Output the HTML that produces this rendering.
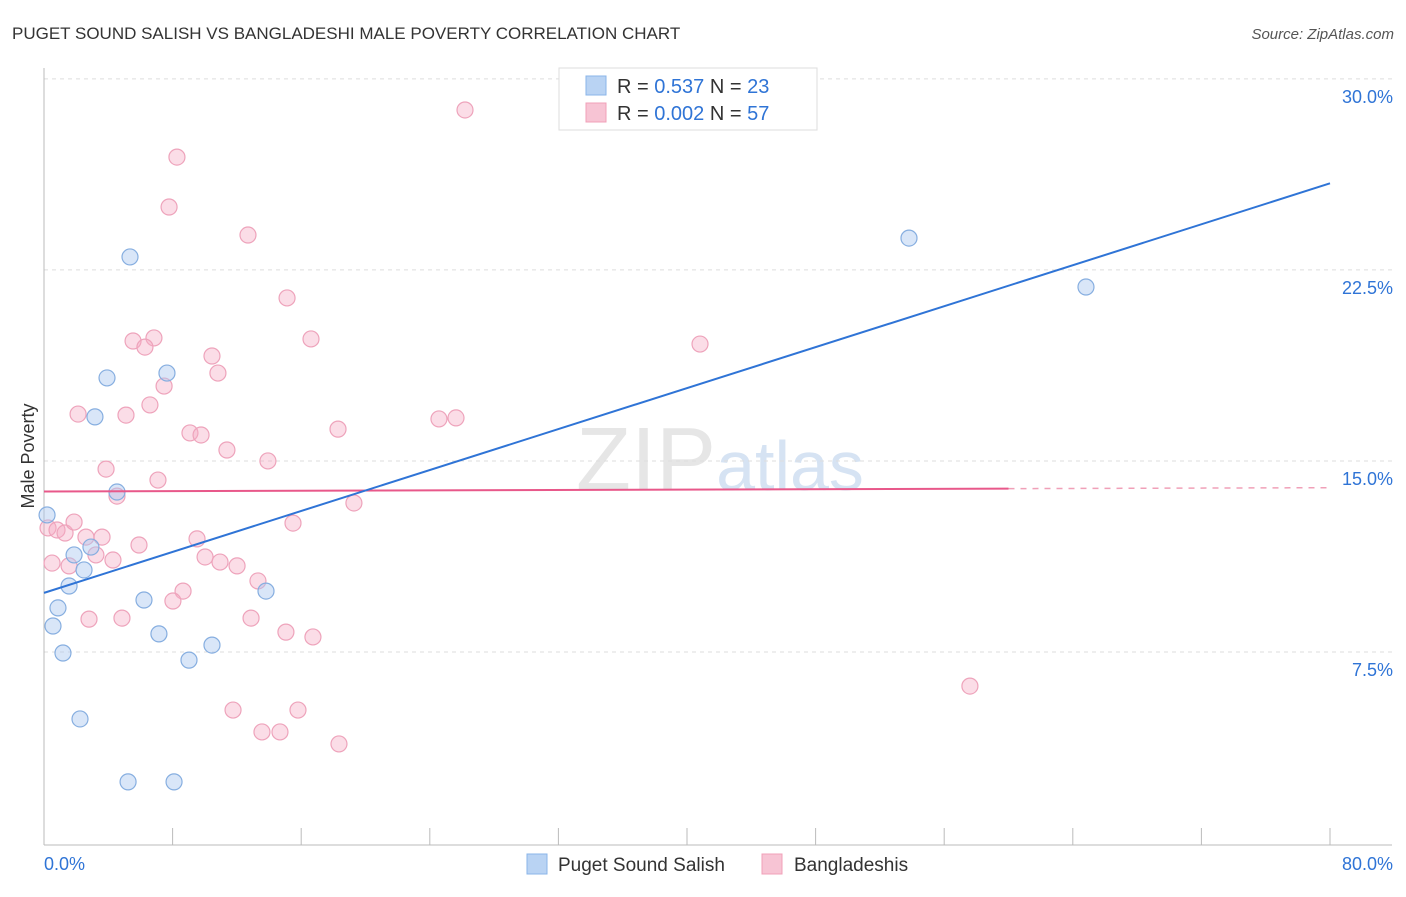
<!DOCTYPE html>
<html><head><meta charset="utf-8"><style>
body{margin:0;background:#fff;font-family:"Liberation Sans",sans-serif}
svg text{font-family:"Liberation Sans",sans-serif}
</style></head><body>
<svg id="c" width="1406" height="892">
<text x="12" y="39" font-size="17" fill="#333">PUGET SOUND SALISH VS BANGLADESHI MALE POVERTY CORRELATION CHART</text>
<text x="1394" y="39" font-size="15" fill="#555" text-anchor="end" font-style="italic">Source: ZipAtlas.com</text>
<text x="720" y="490" font-size="90" fill="#e6e6e6" text-anchor="middle" font-family="Liberation Serif">ZIP<tspan fill="#d6e3f3" font-family="Liberation Sans" font-size="70">atlas</tspan></text>
<g id="grid"></g><g id="marks"></g>
<text transform="translate(34,456) rotate(-90)" font-size="18" fill="#333" text-anchor="middle">Male Poverty</text>
<g>
<rect x="559" y="68" width="258" height="62" fill="#fff" stroke="#ddd"/>
<rect x="586" y="76" width="20" height="19" fill="#b9d3f3" stroke="#8ab4e8"/>
<text x="617" y="93" font-size="20" fill="#333">R = <tspan fill="#2f74d6">0.537</tspan>   N = <tspan fill="#2f74d6">23</tspan></text>
<rect x="586" y="103" width="20" height="19" fill="#f7c4d4" stroke="#f0a0b8"/>
<text x="617" y="120" font-size="20" fill="#333">R = <tspan fill="#2f74d6">0.002</tspan>   N = <tspan fill="#2f74d6">57</tspan></text>
</g>
<g>
<rect x="527" y="854" width="20" height="20" fill="#b9d3f3" stroke="#8ab4e8"/>
<text x="558" y="871" font-size="19" fill="#333">Puget Sound Salish</text>
<rect x="762" y="854" width="20" height="20" fill="#f7c4d4" stroke="#f0a0b8"/>
<text x="794" y="871" font-size="19" fill="#333">Bangladeshis</text>
</g>
</svg>
<script>
const blueX=[0.19,1.87,2.49,1.56,0.87,0.56,1.18,2.24,5.23,8.09,3.17,3.92,5.35,7.65,4.54,2.92,6.22,7.15,9.02,10.45,13.81,53.81,64.82];
const blueY=[12.88,11.31,10.72,10.09,9.23,8.52,7.46,4.87,2.40,2.40,16.73,18.26,23.01,18.45,13.78,11.62,9.54,8.21,7.18,7.77,9.89,23.75,21.83];
const pinkX=[26.19,8.27,7.78,12.69,15.12,16.61,6.84,5.54,6.28,10.45,10.82,7.47,6.59,2.12,5.10,9.08,9.77,11.38,13.93,3.86,7.09,4.54,19.28,18.29,24.57,25.63,40.81,0.25,0.81,1.31,1.87,2.61,3.61,5.91,9.52,15.49,3.23,4.29,0.50,1.56,10.02,10.95,12.01,13.31,8.65,8.02,12.88,2.80,4.85,15.05,16.73,57.60,11.76,15.80,13.56,14.68,18.35];
const pinkY=[28.78,26.93,24.97,23.87,21.40,19.79,19.83,19.71,19.47,19.12,18.45,17.94,17.20,16.84,16.80,16.10,16.02,15.43,15.00,14.68,14.25,13.62,13.35,16.25,16.65,16.69,19.59,12.37,12.29,12.17,12.60,12.01,12.01,11.70,11.94,12.56,11.31,11.11,10.99,10.88,11.23,11.03,10.88,10.29,9.89,9.50,8.83,8.79,8.83,8.28,8.09,6.16,5.22,5.22,4.36,4.36,3.89];
const yTicks=[7.5,15,22.5,30];
const yTickLabels=["7.5%","15.0%","22.5%","30.0%"];
const blueFit=[9.82,25.9];
const pinkFit=[13.8,13.95];
const NS="http://www.w3.org/2000/svg";
const sx=v=>44+v*16.075, sy=v=>843-v*25.47;
function mk(t,a,p){const e=document.createElementNS(NS,t);for(const k in a)e.setAttribute(k,a[k]);p.appendChild(e);return e;}
const g=document.getElementById('grid'), m=document.getElementById('marks');
yTicks.forEach((t,i)=>{
 const l=mk('line',{x1:44,x2:1392,y1:sy(t),y2:sy(t),stroke:'#ddd','stroke-dasharray':'4,4'},g);
 
 
 const tx=mk('text',{x:1393,y:sy(t)+24,'font-size':18,fill:'#2f74d6','text-anchor':'end'},g);
 tx.textContent=yTickLabels[i];
 
 
});
let ax=mk('line',{x1:44,x2:44,y1:68,y2:845,stroke:'#bbb'},g);


ax=mk('line',{x1:44,x2:1392,y1:845,y2:845,stroke:'#bbb'},g);


for(let i=1;i<=10;i++){const t=mk('line',{x1:sx(i*8),x2:sx(i*8),y1:828,y2:845,stroke:'#bbb'},g);
 
 }
[["0.0%",44,"start"],["80.0%",1393,"end"]].forEach(d=>{const t=mk('text',{x:d[1],y:870,'font-size':18,fill:'#2f74d6','text-anchor':d[2]},g);t.textContent=d[0];
 
 });
pinkX.forEach((x,i)=>{const c=mk('circle',{cx:sx(x),cy:sy(pinkY[i]),r:8,fill:'rgba(245,170,195,0.4)',stroke:'#eea3bb','stroke-width':1.2},m);
 
 });
blueX.forEach((x,i)=>{const c=mk('circle',{cx:sx(x),cy:sy(blueY[i]),r:8,fill:'rgba(170,200,240,0.45)',stroke:'#86aee0','stroke-width':1.2},m);
 
 });
const pm=pinkFit[0]+(pinkFit[1]-pinkFit[0])*60/80;
let l=mk('line',{x1:sx(0),y1:sy(pinkFit[0]),x2:sx(60),y2:sy(pm),stroke:'#e8588a','stroke-width':2},m);


l=mk('line',{x1:sx(60),y1:sy(pm),x2:sx(80),y2:sy(pinkFit[1]),stroke:'#f0a0b8','stroke-width':1.5,'stroke-dasharray':'6,6'},m);


l=mk('line',{x1:sx(0),y1:sy(blueFit[0]),x2:sx(80),y2:sy(blueFit[1]),stroke:'#2f74d6','stroke-width':2},m);


</script>
</body></html>
